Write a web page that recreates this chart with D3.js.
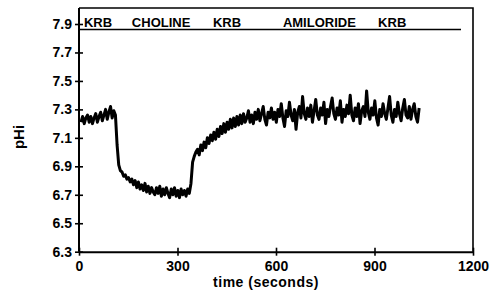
<!DOCTYPE html>
<html>
<head>
<meta charset="utf-8">
<script src="https://cdn.jsdelivr.net/npm/d3@7"></script>
<style>
  body { margin: 0; background: #fff; }
  svg text { font-family: "Liberation Sans", Arial, sans-serif; font-weight: bold; fill: #000; }
</style>
</head>
<body>
<svg class="phchart"></svg>
<script>
// pHi trace, sampled every 5 seconds starting at t = 6 s
let t_start = 6;
let t_step = 5;
let phi = [
  7.21, 7.25, 7.20, 7.24, 7.26, 7.21, 7.25, 7.20, 7.24, 7.27, 7.21, 7.25, 7.28, 7.22, 7.26, 7.30, 7.23, 7.28, 7.32, 7.24, 7.29,
  7.26, 7.05, 6.91, 6.87,
  6.86, 6.83, 6.84, 6.81, 6.82, 6.79, 6.81, 6.77, 6.80, 6.75, 6.79, 6.74, 6.77, 6.73, 6.78, 6.72, 6.76, 6.71, 6.75, 6.72,
  6.70, 6.75, 6.71, 6.76, 6.69, 6.74, 6.70, 6.75, 6.71, 6.68, 6.74, 6.70, 6.75, 6.69, 6.73, 6.68, 6.74, 6.70, 6.73, 6.69,
  6.74, 6.71,
  6.78, 6.93, 6.97, 7.00, 7.02, 6.98, 7.05, 7.01, 7.07, 7.03, 7.10, 7.06, 7.12, 7.08, 7.14, 7.09, 7.16, 7.11, 7.18, 7.13,
  7.20, 7.14, 7.21, 7.16, 7.23, 7.17, 7.24, 7.18, 7.25, 7.19, 7.26, 7.20, 7.27, 7.21, 7.24, 7.29, 7.21, 7.26, 7.20, 7.28,
  7.23, 7.30, 7.22, 7.27, 7.32, 7.23, 7.19, 7.28, 7.24, 7.31, 7.23, 7.28, 7.21, 7.30, 7.25, 7.34, 7.24, 7.18, 7.29, 7.25,
  7.35, 7.26, 7.22, 7.30, 7.16, 7.28, 7.32, 7.24, 7.39, 7.27, 7.23, 7.31, 7.25, 7.33, 7.21, 7.29, 7.37, 7.26, 7.23, 7.31,
  7.26, 7.35, 7.20, 7.30, 7.25, 7.32, 7.38, 7.27, 7.23, 7.31, 7.26, 7.36, 7.21, 7.30, 7.25, 7.33, 7.27, 7.40, 7.26, 7.22,
  7.31, 7.25, 7.34, 7.20, 7.29, 7.32, 7.25, 7.43, 7.28, 7.23, 7.31, 7.26, 7.36, 7.24, 7.19, 7.30, 7.25, 7.34, 7.27, 7.23,
  7.31, 7.39, 7.26, 7.21, 7.30, 7.25, 7.35, 7.27, 7.22, 7.31, 7.37, 7.26, 7.24, 7.32, 7.23, 7.30, 7.34, 7.25, 7.21, 7.31
];

// solution labels along the top band, and the time where each one starts
let solutions = ["KRB", "CHOLINE", "KRB", "AMILORIDE", "KRB"];
let solution_times = [15, 161, 408, 621, 911];

let x_ticks = [0, 300, 600, 900, 1200];
let y_ticks = [6.3, 6.5, 6.7, 6.9, 7.1, 7.3, 7.5, 7.7, 7.9];

let w = 492;
let h = 292;

let svg = d3.select("svg.phchart")
    .attr("width", w)
    .attr("height", h);

let left = 79;
let right = 473;
let top_edge = 8;
let bottom = 251.7;

let x = d3.scaleLinear()
    .domain([0, 1200])
    .range([left, right]);

let y = d3.scaleLinear()
    .domain([6.3, 7.9])
    .range([bottom, 24]);

// frame: top, right, and the line under the solution labels
svg.append("path")
    .attr("d", "M" + left + "," + top_edge + "H" + right + "V" + bottom)
    .attr("fill", "none")
    .attr("stroke", "#000")
    .attr("stroke-width", 1.6);

svg.append("line")
    .attr("x1", left).attr("x2", 461)
    .attr("y1", 29.5).attr("y2", 29.5)
    .attr("stroke", "#000")
    .attr("stroke-width", 1.3);

// y-axis
let y_axis = svg.append("g")
    .attr("transform", "translate(" + left + ",0)")
    .call(d3.axisLeft(y).tickValues(y_ticks).tickFormat(d3.format(".1f"))
        .tickSizeInner(4).tickSizeOuter(0).tickPadding(3));

y_axis.select(".domain")
    .attr("d", "M0," + top_edge + "V" + bottom)
    .attr("stroke-width", 2);
y_axis.selectAll(".tick line")
    .attr("x1", 4)
    .attr("stroke-width", 1.6);
y_axis.selectAll(".tick text")
    .style("font-size", "14px")
    .style("font-weight", "bold")
    .style("font-family", "'Liberation Sans', Arial, sans-serif");

// x-axis
let x_axis = svg.append("g")
    .attr("transform", "translate(0," + bottom + ")")
    .call(d3.axisBottom(x).tickValues(x_ticks).tickFormat(d3.format("d"))
        .tickSizeInner(4).tickSizeOuter(0).tickPadding(5));

x_axis.select(".domain")
    .attr("stroke-width", 2);
x_axis.selectAll(".tick line")
    .attr("y1", -4)
    .attr("stroke-width", 1.6);
x_axis.selectAll(".tick text")
    .style("font-size", "14px")
    .style("font-weight", "bold")
    .style("font-family", "'Liberation Sans', Arial, sans-serif");

// solution labels
svg.append("g")
    .selectAll("text")
    .data(solutions)
    .enter()
    .append("text")
    .attr("x", (d, i) => x(solution_times[i]))
    .attr("y", 27)
    .attr("font-size", "13px")
    .text(d => d);

// axis titles
svg.append("text")
    .attr("x", 266)
    .attr("y", 287)
    .attr("text-anchor", "middle")
    .attr("font-size", "14px")
    .attr("letter-spacing", "0.5px")
    .text("time (seconds)");

svg.append("text")
    .attr("transform", "translate(24,137) rotate(-90)")
    .attr("text-anchor", "middle")
    .attr("font-size", "15px")
    .text("pHi");

// trace
let line = d3.line()
    .x((d, i) => x(t_start + i * t_step))
    .y(d => y(d));

svg.append("path")
    .datum(phi)
    .attr("d", line)
    .attr("fill", "none")
    .attr("stroke", "#000")
    .attr("stroke-width", 3)
    .attr("stroke-linejoin", "round");
</script>
</body>
</html>
